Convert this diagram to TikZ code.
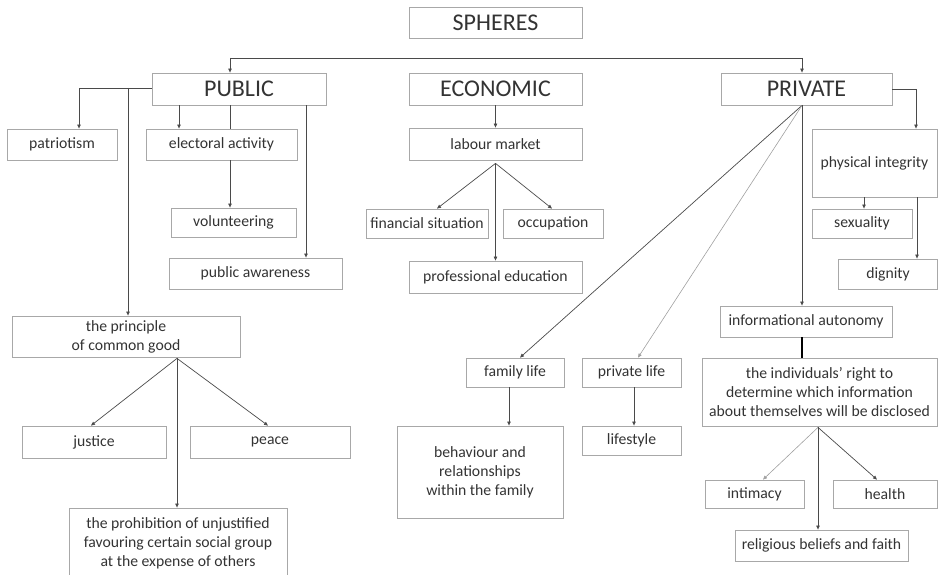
\documentclass[tikz,border=0pt]{standalone}
\usepackage{fontspec}
\setmainfont{Carlito}
\usetikzlibrary{arrows.meta,calc}
\definecolor{boxc}{HTML}{A8A8A8}
\definecolor{linec}{HTML}{4A4A4A}
\definecolor{lightc}{HTML}{A0A0A0}
\definecolor{txt}{HTML}{333333}
\tikzset{
  bx/.style={draw=boxc, line width=0.8pt, inner sep=0pt, align=center, text=txt,
    font=\fontsize{15.7}{19}\selectfont},
  big/.style={bx, font=\fontsize{24}{28}\selectfont},
  conn/.style={draw=linec, line width=0.7pt},
  arr/.style={conn, -{Triangle[length=4pt,width=3.4pt]}},
  larr/.style={draw=lightc, line width=0.6pt, -{Triangle[length=4pt,width=3.4pt]}},
}
\newcommand{\bxn}[6]{\node[#1, minimum width=#4pt, minimum height=#5pt] (#2) at (#3) {#6};}
\begin{document}
\begin{tikzpicture}[x=1pt,y=-1pt]
\useasboundingbox (0,0) rectangle (938,575);
% top level
\bxn{big}{spheres}{495.5,22.5}{173}{31}{SPHERES}
\bxn{big}{public}{239,89}{174}{32}{PUBLIC}
\bxn{big}{economic}{495.5,89}{173}{32}{ECONOMIC}
\bxn{big}{private}{806.5,89}{171}{32}{PRIVATE}
% public branch
\bxn{bx}{patriotism}{62,144.5}{110}{31}{patriotism}
\bxn{bx}{electoral}{221.5,144.5}{151}{31}{electoral activity}
\bxn{bx}{volunteering}{233.5,222.5}{125}{29}{volunteering}
\bxn{bx}{awareness}{255.5,273.5}{173}{31}{public awareness}
\bxn{bx}{principle}{126,336.5}{228}{41}{the principle\\of common good}
\bxn{bx}{justice}{94,442}{144}{32}{justice}
\bxn{bx}{peace}{270,442}{160}{32}{peace}
\bxn{bx}{prohibition}{178,543.5}{218}{71}{the prohibition of unjustified\\favouring certain social group\\at the expense of others}
% economic branch
\bxn{bx}{labour}{495.5,144}{173}{32}{labour market}
\bxn{bx}{financial}{427,223.5}{122}{29}{financial situation}
\bxn{bx}{occupation}{553,223.5}{100}{29}{occupation}
\bxn{bx}{profedu}{495.5,277}{173}{32}{professional education}
% private branch
\bxn{bx}{family}{515,372.5}{98}{29}{family life}
\bxn{bx}{privlife}{631.5,372.5}{99}{29}{private life}
\bxn{bx}{behaviour}{480,472}{166}{92}{behaviour and\\relationships\\within the family}
\bxn{bx}{lifestyle}{631.5,440.5}{99}{29}{lifestyle}
\bxn{bx}{infoaut}{806,321.5}{172}{31}{informational autonomy}
\bxn{bx}{right}{819.5,392}{235}{68}{the individuals’ right to\\determine which information\\about themselves will be disclosed}
\bxn{bx}{intimacy}{754.5,494}{99}{28}{intimacy}
\bxn{bx}{health}{885,494}{104}{28}{health}
\bxn{bx}{religious}{821.5,545.5}{173}{31}{religious beliefs and faith}
\bxn{bx}{physint}{874.5,163}{125}{68}{physical integrity}
\bxn{bx}{sexuality}{862,223.5}{100}{29}{sexuality}
\bxn{bx}{dignity}{888,274}{99}{30}{dignity}
% top bar
\coordinate (barL) at (230,58);
\coordinate (barR) at (802,58);
\draw[conn] (barL) -- (barR);
\draw[arr] (barL) -- (barL |- public.north);
\draw[arr] (barR) -- (barR |- private.north);
% public connectors
\coordinate (pj) at (128,88);
\draw[arr] (public.west |- pj) -| ([xshift=17pt]patriotism.north);
\draw[arr] (pj) -- (pj |- principle.north);
\draw[arr] ([xshift=-60pt]public.south) -- ([xshift=-60pt]public.south |- electoral.north);
\draw[conn] ([xshift=-9pt]public.south) -- ([xshift=-9pt]public.south |- electoral.north);
\draw[arr] ([xshift=-9pt]public.south |- electoral.south) -- ([xshift=-9pt]public.south |- volunteering.north);
\draw[arr] ([xshift=67pt]public.south) -- ([xshift=67pt]public.south |- awareness.north);
\coordinate (pc) at ([xshift=51pt,yshift=-1pt]principle.south);
\draw[arr] (pc) -- ([xshift=-3pt]justice.north);
\draw[arr] (pc) -- ([xshift=-2pt]peace.north);
\draw[arr] (pc) -- (pc |- prohibition.north);
% economic connectors
\draw[arr] (economic.south) -- (labour.north);
\coordinate (lc) at ([yshift=-3pt]labour.south);
\draw[arr] (lc) -- ([xshift=10pt]financial.north);
\draw[arr] (lc) -- ([xshift=-1pt]occupation.north);
\draw[arr] (lc) -- (lc |- profedu.north);
% private connectors
\coordinate (po) at ([xshift=-4.5pt]private.south);
\draw[arr] (po) -- ([xshift=5pt]family.north);
\draw[larr] (po) -- ([xshift=6.5pt]privlife.north);
\draw[arr] (po) -- (po |- infoaut.north);
\draw[arr] (private.east) -| ([xshift=41.5pt]physint.north);
\draw[arr] ([xshift=-10.5pt]physint.south) -- ([xshift=-10.5pt]physint.south |- sexuality.north);
\draw[arr] ([xshift=42.5pt]physint.south) -- ([xshift=42.5pt]physint.south |- dignity.north);
\draw[black, line width=1.8pt] ([xshift=-4pt]infoaut.south) -- ([xshift=-4pt]infoaut.south |- right.north);
\coordinate (rc) at ([xshift=-1.5pt,yshift=-1pt]right.south);
\draw[larr] (rc) -- ([xshift=8.5pt]intimacy.north);
\draw[arr] (rc) -- ([xshift=-8pt]health.north);
\draw[arr] (rc) -- (rc |- religious.north);
\draw[arr] ([xshift=-6pt]family.south) -- ([xshift=-6pt]family.south |- behaviour.north);
\draw[arr] ([xshift=2.5pt]privlife.south) -- ([xshift=2.5pt]privlife.south |- lifestyle.north);
\end{tikzpicture}
\end{document}
